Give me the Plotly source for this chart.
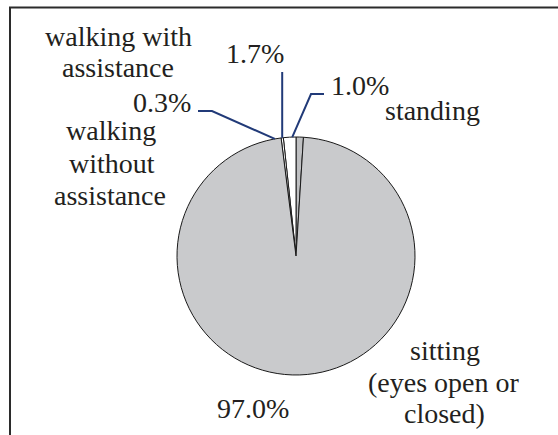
import math
import plotly.graph_objects as go

# ---- data ----
labels = ["standing", "walking with assistance", "walking without assistance",
          "sitting (eyes open or closed)"]
values = [1.0, 1.7, 0.3, 97.0]
label_lines = [["standing"], ["walking with", "assistance"],
               ["walking", "without", "assistance"],
               ["sitting", "(eyes open or", "closed)"]]

# ---- styling / layout ----
W, H = 558, 435
colors = ["#bfc0c2", "#ffffff", "#ffffff", "#c9cacc"]
cx, cy, R = 296, 256, 119          # pie centre / radius in pixels
FONT = "Times New Roman, Liberation Serif, DejaVu Serif, serif"
FS = 28
TXT = "#231f20"
LEAD = "#213a78"

# label positions (centre x, baseline y) in pixels
name_pos = [[(432, 120)], [(119, 46), (118, 77)],
            [(111, 140), (112, 173), (110, 205)],
            [(445, 360), (444, 392), (444, 423)]]
pct_pos = [(360, 95), (255, 63), (162, 112), (253, 418)]
elbows = [[(311, 94), (324, 94)], [(None, 72)], [(212, 111), (198, 111)], None]


def px(x):
    return x / W


def py(y):
    return 1 - y / H


fig = go.Figure(go.Pie(
    labels=labels, values=values, sort=False, direction="counterclockwise",
    rotation=0, textinfo="none", hoverinfo="label+percent", showlegend=False,
    marker=dict(colors=colors, line=dict(color="#1a1a1a", width=1)),
    domain=dict(x=[px(cx - R), px(cx + R)], y=[py(cy + R), py(cy - R)]),
))

annotations = []
shapes = []
off = 0.3375 * FS
for lines, poss in zip(label_lines, name_pos):
    for t, (x, y) in zip(lines, poss):
        annotations.append(dict(text=t, x=px(x), y=py(y - off), xref="paper", yref="paper",
                                xanchor="center", yanchor="middle", showarrow=False,
                                font=dict(family=FONT, size=FS, color=TXT)))
total = sum(values)
for v, (x, y) in zip(values, pct_pos):
    annotations.append(dict(text=f"{v / total * 100:.1f}%", x=px(x), y=py(y - off),
                            xref="paper", yref="paper", xanchor="center", yanchor="middle",
                            showarrow=False, font=dict(family=FONT, size=FS, color=TXT)))

# leader lines from slice mid-angles
cum = 0.0
for v, el in zip(values, elbows):
    mid = (cum + v / 2) / total * 2 * math.pi
    cum += v
    if el is None:
        continue
    ex = cx - R * math.sin(mid)
    ey = cy - R * math.cos(mid)
    pts = [(ex, ey)] + [((ex if x is None else x), y) for x, y in el]
    path = "M " + " L ".join(f"{px(x):.5f},{py(y):.5f}" for x, y in pts)
    shapes.append(dict(type="path", path=path, xref="paper", yref="paper",
                       line=dict(color=LEAD, width=2)))

# chart border (only top/left visible)
shapes.append(dict(type="rect", xref="paper", yref="paper", x0=px(10), x1=1.3,
                   y0=py(7.5), y1=-0.3, line=dict(color="#2b2b2b", width=2)))

fig.update_layout(width=W, height=H, margin=dict(l=0, r=0, t=0, b=0),
                  paper_bgcolor="white", plot_bgcolor="white",
                  font=dict(family=FONT, size=FS, color=TXT),
                  annotations=annotations, shapes=shapes)
fig.write_html("out.html", config={"displayModeBar": False},
               post_script="document.body.style.margin='0';document.body.style.padding='0';")
